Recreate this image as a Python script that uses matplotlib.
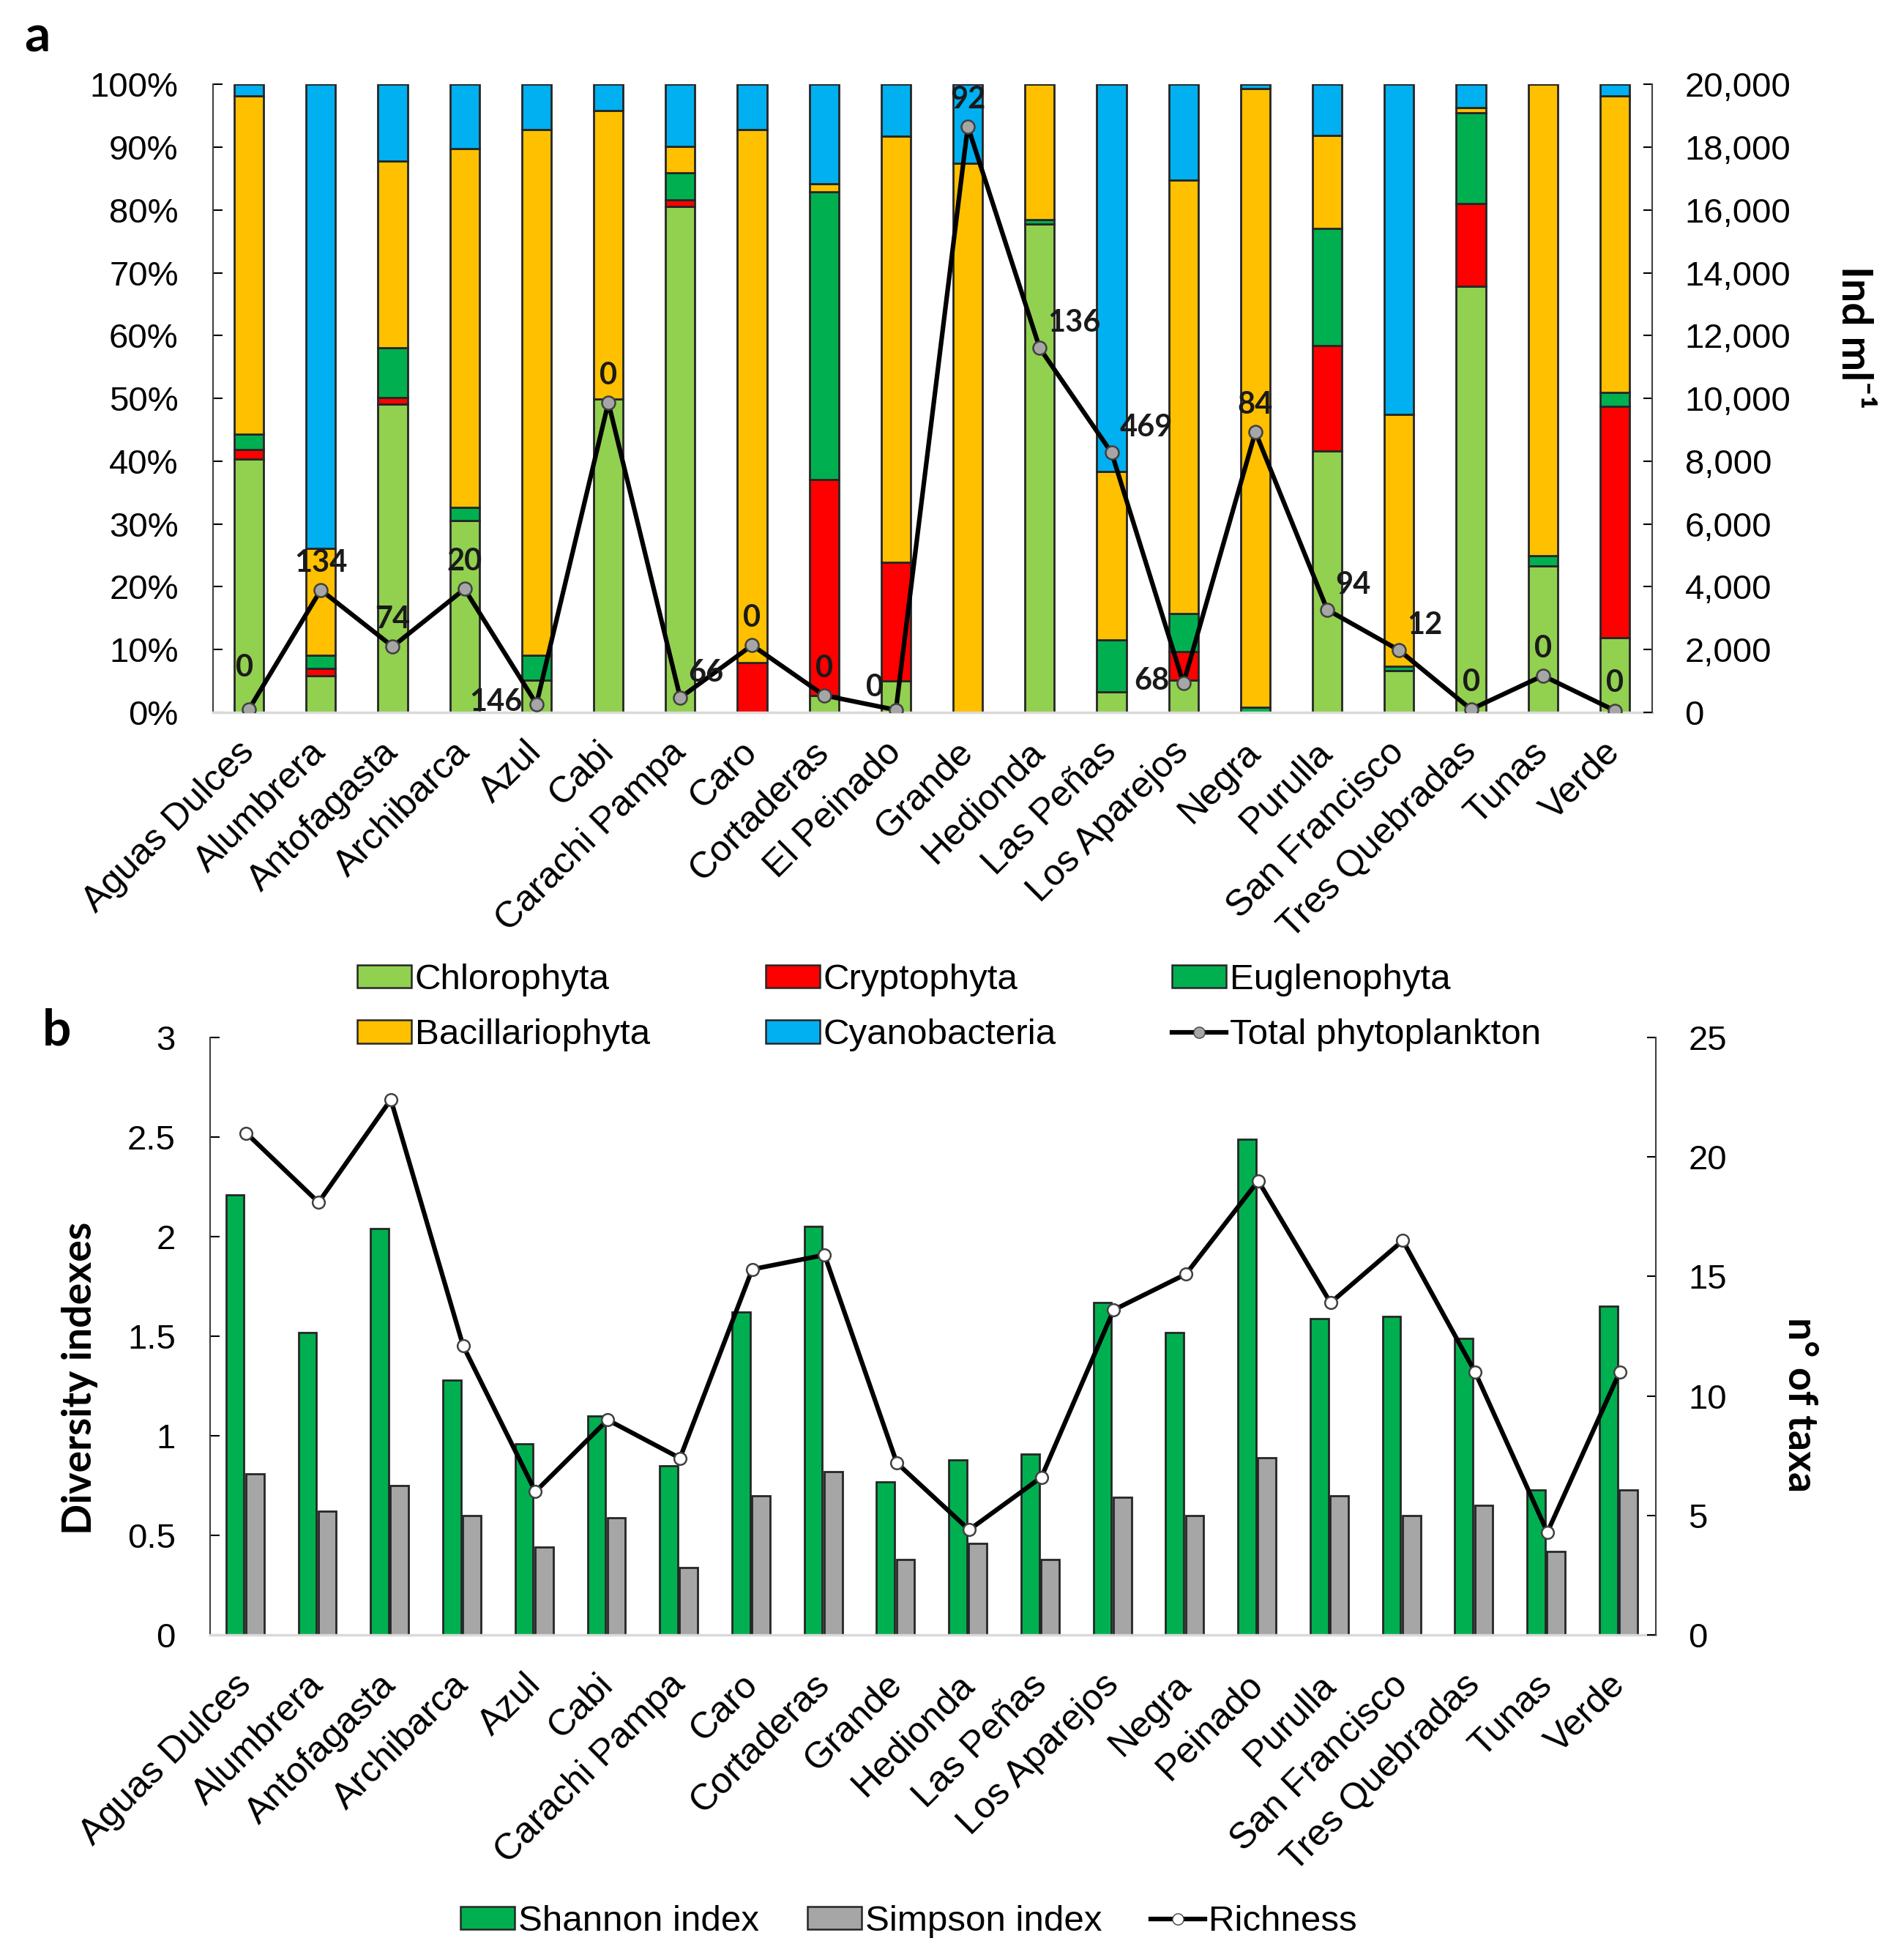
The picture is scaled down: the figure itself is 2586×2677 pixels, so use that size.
import matplotlib
matplotlib.use('Agg')
import matplotlib.pyplot as plt
from matplotlib.patches import Patch
from matplotlib.lines import Line2D
from matplotlib.ticker import FuncFormatter

# ---------------- data: panel a ----------------
sites_a = ['Aguas Dulces', 'Alumbrera', 'Antofagasta', 'Archibarca', 'Azul', 'Cabi',
           'Carachi Pampa', 'Caro', 'Cortaderas', 'El Peinado', 'Grande', 'Hedionda',
           'Las Peñas', 'Los Aparejos', 'Negra', 'Purulla', 'San Francisco',
           'Tres Quebradas', 'Tunas', 'Verde']
chlorophyta     = [40.3, 5.8, 49.1, 30.6, 5.1, 49.9, 80.5, 0.0, 2.7, 5.0,
                   0.0, 77.7, 3.3, 5.1, 0.0, 41.6, 6.6, 67.9, 23.3, 11.9]
cryptophyta     = [1.5, 1.2, 1.0, 0.0, 0.0, 0.0, 1.1, 7.9, 34.4, 18.9,
                   0.0, 0.0, 0.0, 4.6, 0.0, 16.8, 0.0, 13.1, 0.0, 36.8]
euglenophyta    = [2.5, 2.1, 8.0, 2.0, 4.0, 0.0, 4.3, 0.0, 45.8, 0.0,
                   0.0, 0.7, 8.2, 6.1, 0.8, 18.6, 0.8, 14.5, 1.6, 2.2]
bacillariophyta = [53.8, 17.0, 29.7, 57.2, 83.7, 45.9, 4.2, 84.9, 1.3, 67.8,
                   87.4, 21.6, 26.9, 69.0, 98.5, 14.8, 40.0, 0.8, 75.1, 47.2]
cyanobacteria   = [1.9, 73.9, 12.2, 10.2, 7.2, 4.2, 9.9, 7.2, 15.8, 8.3,
                   12.6, 0.0, 61.6, 15.2, 0.7, 8.2, 52.6, 3.7, 0.0, 1.9]
total_phyto     = [100, 3900, 2100, 3930, 270, 9870, 470, 2140, 545, 80,
                   18660, 11600, 8270, 930, 8930, 3270, 1980, 100, 1170, 60]
total_labels    = ['0', '134', '74', '20', '146', '0', '66', '0', '0', '0',
                   '92', '136', '469', '68', '84', '94', '12', '0', '0', '0']
label_pos       = ['al', 'a', 'a', 'a', 'l', 'a', 'ar', 'a', 'a', 'lh',
                   'a', 'ar', 'ar', 'l', 'a', 'ar', 'ar', 'a', 'a', 'a']

# ---------------- data: panel b ----------------
sites_b = ['Aguas Dulces', 'Alumbrera', 'Antofagasta', 'Archibarca', 'Azul', 'Cabi',
           'Carachi Pampa', 'Caro', 'Cortaderas', 'Grande', 'Hedionda', 'Las Peñas',
           'Los Aparejos', 'Negra', 'Peinado', 'Purulla', 'San Francisco',
           'Tres Quebradas', 'Tunas', 'Verde']
shannon  = [2.21, 1.52, 2.04, 1.28, 0.96, 1.10, 0.85, 1.62, 2.05, 0.77,
            0.88, 0.91, 1.67, 1.52, 2.49, 1.59, 1.60, 1.49, 0.73, 1.65]
simpson  = [0.81, 0.62, 0.75, 0.60, 0.44, 0.59, 0.34, 0.70, 0.82, 0.38,
            0.46, 0.38, 0.69, 0.60, 0.89, 0.70, 0.60, 0.65, 0.42, 0.73]
richness = [21.0, 18.1, 22.4, 12.1, 6.0, 9.0, 7.4, 15.3, 15.9, 7.2,
            4.4, 6.6, 13.6, 15.1, 19.0, 13.9, 16.5, 11.0, 4.3, 11.0]

# ---------------- style ----------------
C_CHL, C_CRY, C_EUG, C_BAC, C_CYA = '#92D050', '#FF0000', '#00B050', '#FFC000', '#00B0F0'
C_SIMP = '#A6A6A6'
EDGE = '#262626'
FONT = ['Liberation Sans', 'DejaVu Sans']
BOLD = ['Lato', 'Liberation Sans', 'DejaVu Sans']
plt.rcParams['font.family'] = FONT
TICK_FS = 34
CAT_FS = 36
LEG_FS = 35.5
AXL_FS = 40

fig = plt.figure(figsize=(25.86, 26.77), dpi=100)

# ================= panel a =================
ax = fig.add_axes([0.1125, 0.6365, 0.7603, 0.3205])
x = list(range(len(sites_a)))
series = [(chlorophyta, C_CHL), (cryptophyta, C_CRY), (euglenophyta, C_EUG),
          (bacillariophyta, C_BAC), (cyanobacteria, C_CYA)]
bottom = [0.0] * len(x)
for vals, col in series:
    ax.bar(x, vals, width=0.41, bottom=bottom, color=col, edgecolor=EDGE, linewidth=2.0, zorder=2)
    bottom = [b + v for b, v in zip(bottom, vals)]

ax.set_xlim(-0.5, 19.52)
ax.set_ylim(0, 100)
ax.set_yticks(range(0, 101, 10))
ax.yaxis.set_major_formatter(FuncFormatter(lambda v, p: f'{int(v)}%'))
ax.set_xticks(x)
ax.set_xticklabels(sites_a, rotation=45, ha='right', va='center', rotation_mode='anchor',
                   fontsize=CAT_FS)
ax.tick_params(axis='x', length=0, pad=34)
ax.tick_params(axis='y', labelsize=TICK_FS, length=9, width=1.5, direction='in', pad=34)
ax.spines['top'].set_visible(False)
ax.spines['right'].set_visible(False)
ax.spines['bottom'].set_color('#D9D9D9')
ax.spines['bottom'].set_linewidth(2.5)
ax.spines['left'].set_color('#404040')
ax.spines['left'].set_linewidth(1.5)

ax2 = ax.twinx()
ax2.plot(x, total_phyto, color='black', lw=4.5, marker='o', markersize=13,
         markerfacecolor=C_SIMP, markeredgecolor='#404040', markeredgewidth=1.8, zorder=5)
ax2.set_ylim(0, 20000)
ax2.set_yticks(range(0, 20001, 2000))
ax2.yaxis.set_major_formatter(FuncFormatter(lambda v, p: f'{int(v):,}'))
ax2.tick_params(axis='y', labelsize=TICK_FS, length=9, width=1.5, direction='in', pad=32)
for s in ['top', 'left', 'bottom']:
    ax2.spines[s].set_visible(False)
ax2.spines['right'].set_color('#404040')
ax2.spines['right'].set_linewidth(1.5)
ax2.set_ylabel('Ind ml⁻¹', rotation=270, fontsize=41, fontweight='bold',
               family=BOLD, va='center', ha='center')
ax2.yaxis.set_label_coords(1.14, 0.597)

offsets = {'a': (0, 13, 'center', 'bottom'), 'ar': (8, 11, 'left', 'bottom'),
           'al': (-4, 27, 'center', 'bottom'), 'l': (-14, 2, 'right', 'center'),
           'lh': (-12, 22, 'right', 'center')}
for xi, yi, lab, pos in zip(x, total_phyto, total_labels, label_pos):
    dx, dy, ha, va = offsets[pos]
    ax2.annotate(lab, (xi, yi), xytext=(dx, dy), textcoords='offset points',
                 ha=ha, va=va, fontsize=30, fontweight='bold', family=BOLD,
                 color='#1a1a1a', zorder=6)

handles_a = [Patch(facecolor=C_CHL, edgecolor=EDGE, lw=1.8),
             Patch(facecolor=C_BAC, edgecolor=EDGE, lw=1.8),
             Patch(facecolor=C_CRY, edgecolor=EDGE, lw=1.8),
             Patch(facecolor=C_CYA, edgecolor=EDGE, lw=1.8),
             Patch(facecolor=C_EUG, edgecolor=EDGE, lw=1.8),
             Line2D([], [], color='black', lw=4.5, marker='o', markersize=11,
                    markerfacecolor=C_SIMP, markeredgecolor='#404040')]
labels_a = ['Chlorophyta', 'Bacillariophyta', 'Cryptophyta', 'Cyanobacteria',
            'Euglenophyta', 'Total phytoplankton']
fig.legend(handles_a, labels_a, ncol=3, loc='upper left', bbox_to_anchor=(0.1887, 0.5085),
           frameon=False, fontsize=LEG_FS, handlelength=1.5, handleheight=0.6,
           handletextpad=0.1, columnspacing=3.2, labelspacing=0.62, borderpad=0,
           borderaxespad=0)

# ================= panel b =================
bx = fig.add_axes([0.111, 0.1658, 0.7637, 0.3049])
xb = list(range(len(sites_b)))
bx.bar([v - 0.155 for v in xb], shannon, width=0.25, color=C_EUG, edgecolor=EDGE,
       linewidth=2.0, zorder=2)
bx.bar([v + 0.12 for v in xb], simpson, width=0.25, color=C_SIMP, edgecolor=EDGE,
       linewidth=2.0, zorder=2)
bx.set_xlim(-0.5, 19.5)
bx.set_ylim(0, 3)
bx.set_yticks([0, 0.5, 1, 1.5, 2, 2.5, 3])
bx.set_yticklabels(['0', '0.5', '1', '1.5', '2', '2.5', '3'])
bx.set_xticks(xb)
bx.set_xticklabels(sites_b, rotation=45, ha='right', va='center', rotation_mode='anchor',
                   fontsize=CAT_FS)
bx.tick_params(axis='x', length=0, pad=44)
bx.tick_params(axis='y', labelsize=TICK_FS, length=9, width=1.5, direction='in', pad=34)
bx.spines['top'].set_visible(False)
bx.spines['right'].set_visible(False)
bx.spines['bottom'].set_color('#D9D9D9')
bx.spines['bottom'].set_linewidth(2.5)
bx.spines['left'].set_color('#404040')
bx.spines['left'].set_linewidth(1.5)
bx.set_ylabel('Diversity indexes', fontsize=AXL_FS, fontweight='bold', family=BOLD,
              va='center', ha='center')
bx.yaxis.set_label_coords(-0.09, 0.43)

bx2 = bx.twinx()
bx2.plot(xb, richness, color='black', lw=4.5, marker='o', markersize=12,
         markerfacecolor='white', markeredgecolor='#404040', markeredgewidth=1.8, zorder=5)
bx2.set_ylim(0, 25)
bx2.set_yticks(range(0, 26, 5))
bx2.tick_params(axis='y', labelsize=TICK_FS, length=9, width=1.5, direction='in', pad=32)
for s in ['top', 'left', 'bottom']:
    bx2.spines[s].set_visible(False)
bx2.spines['right'].set_color('#404040')
bx2.spines['right'].set_linewidth(1.5)
bx2.set_ylabel('n° of taxa', rotation=270, fontsize=AXL_FS, fontweight='bold',
               family=BOLD, va='center', ha='center')
bx2.yaxis.set_label_coords(1.10, 0.385)

handles_b = [Patch(facecolor=C_EUG, edgecolor=EDGE, lw=1.8),
             Patch(facecolor=C_SIMP, edgecolor=EDGE, lw=1.8),
             Line2D([], [], color='black', lw=4.5, marker='o', markersize=11,
                    markerfacecolor='white', markeredgecolor='#404040')]
fig.legend(handles_b, ['Shannon index', 'Simpson index', 'Richness'], ncol=3,
           loc='upper left', bbox_to_anchor=(0.2432, 0.028), frameon=False,
           fontsize=LEG_FS, handlelength=1.5, handleheight=0.6, handletextpad=0.1,
           columnspacing=1.35, borderpad=0, borderaxespad=0)

fig.text(0.0197, 0.981, 'a', fontsize=50, fontweight='bold', family=BOLD, ha='center', va='center')
fig.text(0.0298, 0.474, 'b', fontsize=50, fontweight='bold', family=BOLD, ha='center', va='center')

fig.savefig('out.png', dpi=100, facecolor='white')
